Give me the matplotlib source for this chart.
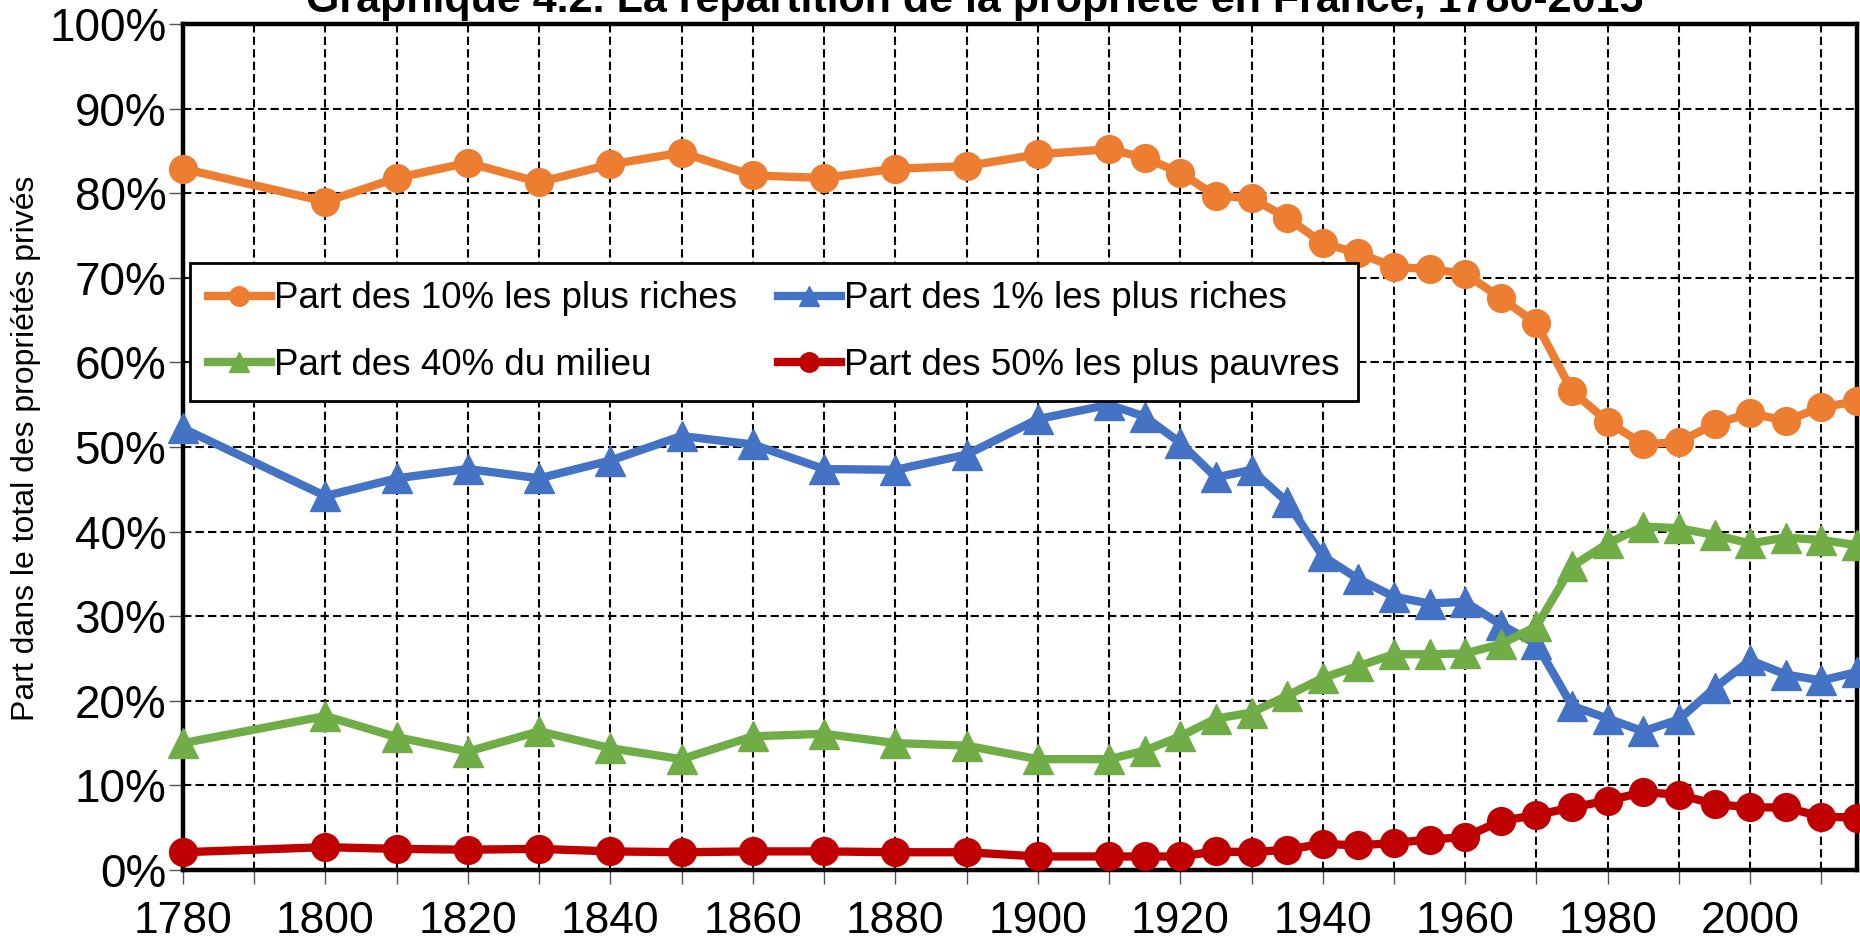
import matplotlib
matplotlib.use("Agg")
import matplotlib.pyplot as plt
from matplotlib.ticker import FuncFormatter

plt.rcParams['font.family'] = ['Liberation Sans', 'DejaVu Sans']

# years (10-year steps up to 1910, then 5-year steps)
years = [1780, 1800, 1810, 1820, 1830, 1840, 1850, 1860, 1870, 1880, 1890, 1900,
         1910, 1915, 1920, 1925, 1930, 1935, 1940, 1945, 1950, 1955, 1960, 1965,
         1970, 1975, 1980, 1985, 1990, 1995, 2000, 2005, 2010, 2015]

top10 = [82.9, 79.0, 81.8, 83.6, 81.3, 83.4, 84.8, 82.1, 81.8, 82.9, 83.2, 84.6,
         85.2, 84.2, 82.4, 79.7, 79.4, 77.1, 74.1, 72.9, 71.3, 71.0, 70.5, 67.6,
         64.6, 56.6, 53.0, 50.3, 50.6, 52.7, 54.0, 53.1, 54.7, 55.4]
top1 = [52.2, 44.2, 46.3, 47.4, 46.3, 48.4, 51.3, 50.3, 47.4, 47.3, 49.1, 53.3,
        55.0, 53.6, 50.5, 46.4, 47.3, 43.5, 37.1, 34.4, 32.3, 31.5, 31.7, 29.0,
        26.7, 19.4, 17.9, 16.4, 17.8, 21.5, 24.8, 23.1, 22.4, 23.4]
mid40 = [15.0, 18.2, 15.7, 14.0, 16.4, 14.4, 13.1, 15.8, 16.1, 15.0, 14.7, 13.1,
         13.1, 14.1, 15.8, 17.9, 18.6, 20.6, 22.7, 24.1, 25.5, 25.5, 25.6, 26.7,
         28.8, 35.9, 38.6, 40.6, 40.4, 39.6, 38.6, 39.3, 39.0, 38.4]
bot50 = [2.1, 2.7, 2.5, 2.4, 2.5, 2.2, 2.1, 2.2, 2.2, 2.1, 2.1, 1.6,
         1.6, 1.6, 1.6, 2.2, 2.1, 2.4, 3.1, 2.9, 3.2, 3.6, 3.9, 5.8,
         6.5, 7.4, 8.2, 9.2, 8.9, 7.8, 7.4, 7.4, 6.3, 6.2]

title = "Graphique 4.2. La répartition de la propriété en France, 1780-2015"
ylabel = "Part dans le total des propriétés privés"
labels = ["Part des 10% les plus riches", "Part des 1% les plus riches",
          "Part des 40% du milieu", "Part des 50% les plus pauvres"]

fig = plt.figure(figsize=(18.6, 9.42), dpi=100)
ax = fig.add_axes([183 / 1860, 1 - 870 / 942, (1857 - 183) / 1860, (870 - 24) / 942])

lw = 6
ms = 20
l1, = ax.plot(years, top10, color='#ED7D31', lw=lw, marker='o', ms=ms, zorder=5)
l2, = ax.plot(years, top1, color='#4472C4', lw=lw, marker='^', ms=ms + 1, zorder=5)
l3, = ax.plot(years, mid40, color='#70AD47', lw=lw, marker='^', ms=ms + 1, zorder=5)
l4, = ax.plot(years, bot50, color='#C00000', lw=lw, marker='o', ms=ms, zorder=5)
for l in (l1, l2, l3, l4):
    l.set_clip_on(False)

ax.set_xlim(1780, 2015)
ax.set_ylim(0, 100)
ax.set_xticks(range(1780, 2011, 10))
ax.set_xticklabels([str(y) if (y - 1780) % 20 == 0 else '' for y in range(1780, 2011, 10)])
ax.set_yticks(range(0, 101, 10))
ax.yaxis.set_major_formatter(FuncFormatter(lambda v, p: '%d%%' % v))

ax.grid(True, color='black', linestyle=(0, (4, 2)), linewidth=1.5)
ax.set_axisbelow(True)
for s in ax.spines.values():
    s.set_linewidth(3.2)
    s.set_color('black')
ax.tick_params(axis='x', length=10, width=1, color='#555555', labelsize=32, pad=12)
ax.tick_params(axis='y', length=10, width=1, color='#555555', labelsize=33, pad=2)

# matplotlib fills legend column by column, reference reads row by row
leg = ax.legend([l1, l3, l2, l4], [labels[0], labels[2], labels[1], labels[3]],
                ncol=2, loc='upper left',
                bbox_to_anchor=(0.004, 0.7175), fontsize=26.5, frameon=True,
                fancybox=False, edgecolor='black', framealpha=1,
                handlelength=1.7, handletextpad=0.1, columnspacing=1.1,
                markerscale=0.7, borderpad=0.5, labelspacing=0.85,
                borderaxespad=0)
leg.get_frame().set_linewidth(2)
leg.set_zorder(10)

fig.text(0.524, 1 - 12 / 942, title, ha='center', va='baseline',
         fontsize=31, fontweight='bold')
fig.text(26 / 1860, 0.5244, ylabel, rotation=90, ha='center', va='center',
         fontsize=23)

fig.savefig('out.png', dpi=100)
